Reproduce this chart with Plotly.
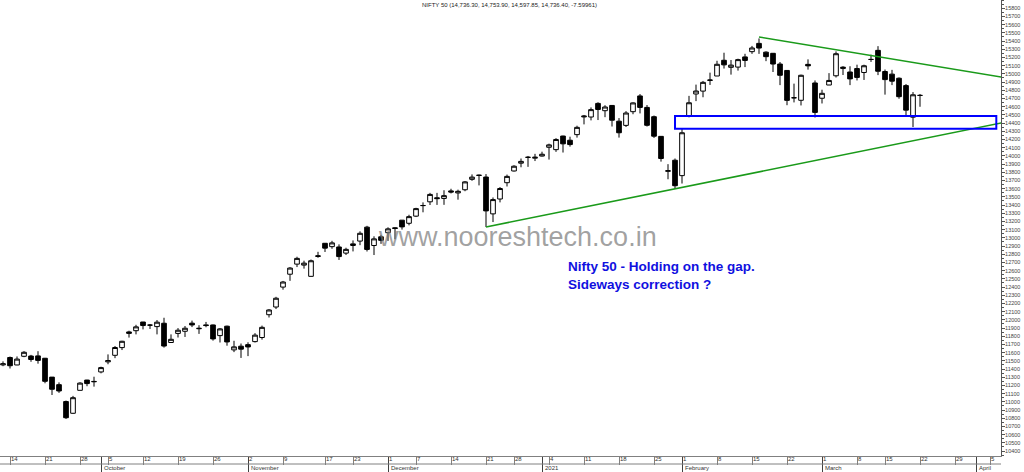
import datetime as dt
import plotly.graph_objects as go

# ---------------- data ----------------
dates = [
    "2020-09-11", "2020-09-14", "2020-09-15", "2020-09-16", "2020-09-17", "2020-09-18",
    "2020-09-21", "2020-09-22", "2020-09-23", "2020-09-24", "2020-09-25",
    "2020-09-28", "2020-09-29", "2020-09-30", "2020-10-01",
    "2020-10-05", "2020-10-06", "2020-10-07", "2020-10-08", "2020-10-09",
    "2020-10-12", "2020-10-13", "2020-10-14", "2020-10-15", "2020-10-16",
    "2020-10-19", "2020-10-20", "2020-10-21", "2020-10-22", "2020-10-23",
    "2020-10-26", "2020-10-27", "2020-10-28", "2020-10-29", "2020-10-30",
    "2020-11-02", "2020-11-03", "2020-11-04", "2020-11-05", "2020-11-06",
    "2020-11-09", "2020-11-10", "2020-11-11", "2020-11-12", "2020-11-13", "2020-11-14",
    "2020-11-17", "2020-11-18", "2020-11-19", "2020-11-20",
    "2020-11-23", "2020-11-24", "2020-11-25", "2020-11-26", "2020-11-27",
    "2020-12-01", "2020-12-02", "2020-12-03", "2020-12-04",
    "2020-12-07", "2020-12-08", "2020-12-09", "2020-12-10", "2020-12-11",
    "2020-12-14", "2020-12-15", "2020-12-16", "2020-12-17", "2020-12-18",
    "2020-12-21", "2020-12-22", "2020-12-23", "2020-12-24",
    "2020-12-28", "2020-12-29", "2020-12-30", "2020-12-31", "2021-01-01",
    "2021-01-04", "2021-01-05", "2021-01-06", "2021-01-07", "2021-01-08",
    "2021-01-11", "2021-01-12", "2021-01-13", "2021-01-14", "2021-01-15",
    "2021-01-18", "2021-01-19", "2021-01-20", "2021-01-21", "2021-01-22",
    "2021-01-25", "2021-01-27", "2021-01-28", "2021-01-29",
    "2021-02-01", "2021-02-02", "2021-02-03", "2021-02-04", "2021-02-05",
    "2021-02-08", "2021-02-09", "2021-02-10", "2021-02-11", "2021-02-12",
    "2021-02-15", "2021-02-16", "2021-02-17", "2021-02-18", "2021-02-19",
    "2021-02-22", "2021-02-23", "2021-02-24", "2021-02-25", "2021-02-26",
    "2021-03-01", "2021-03-02", "2021-03-03", "2021-03-04", "2021-03-05",
    "2021-03-08", "2021-03-09", "2021-03-10", "2021-03-12",
    "2021-03-15", "2021-03-16", "2021-03-17", "2021-03-18", "2021-03-19",
    "2021-03-22",
]

opens = [
    11450, 11540, 11449, 11555, 11558, 11560,
    11531, 11301, 11209, 11003, 10860,
    11140, 11265, 11244, 11364,
    11487, 11567, 11661, 11852, 11867,
    11973, 11935, 11917, 11958, 11723,
    11834, 11860, 11959, 11891, 11938,
    11937, 11807, 11922, 11633, 11678,
    11697, 11734, 11784, 12062, 12156,
    12399, 12556, 12679, 12667, 12530, 12772,
    12933, 12892, 12888, 12813,
    12906, 12960, 13130, 12906, 13012,
    13062, 13122, 13215, 13177,
    13264, 13394, 13439, 13488, 13480,
    13572, 13547, 13586, 13713, 13764,
    13741, 13292, 13473, 13672,
    13815, 13910, 13980, 13971, 13997,
    14104, 14075, 14241, 14190, 14258,
    14474, 14473, 14639, 14550, 14614,
    14422, 14371, 14538, 14730, 14590,
    14477, 14237, 13811, 13946,
    13758, 14482, 14754, 14789, 14919,
    14973, 15165, 15079, 15082, 15206,
    15270, 15371, 15264, 15250, 15119,
    15041, 14707, 14677, 15115, 14888,
    14702, 14863, 14976, 15064, 15022,
    15064, 15016, 15175, 15286,
    15028, 14996, 14946, 14856, 14471,
    14736.30,
]

highs = [
    11493, 11552, 11553, 11618, 11572, 11617,
    11535, 11302, 11237, 11015, 11072,
    11239, 11268, 11306, 11428,
    11578, 11680, 11744, 11867, 11939,
    11974, 11948, 11997, 12025, 11822,
    11899, 11924, 11990, 11934, 11974,
    11942, 11899, 11929, 11744, 11711,
    11726, 11837, 11929, 12131, 12280,
    12474, 12643, 12769, 12721, 12735, 12829,
    12934, 12963, 12920, 12879,
    12968, 13079, 13146, 13018, 13035,
    13128, 13128, 13217, 13281,
    13366, 13432, 13548, 13548, 13580,
    13598, 13587, 13692, 13773, 13771,
    13777, 13492, 13619, 13771,
    13885, 13967, 13998, 14024, 14050,
    14148, 14215, 14245, 14233, 14367,
    14498, 14590, 14653, 14617, 14618,
    14460, 14545, 14652, 14753, 14619,
    14491, 14237, 13898, 13967,
    14336, 14731, 14868, 14913, 15014,
    15159, 15257, 15168, 15184, 15244,
    15340, 15431, 15274, 15252, 15144,
    15044, 14880, 14990, 15176, 14919,
    14806, 15008, 15273, 15093, 15092,
    15111, 15111, 15233, 15337,
    15052, 15048, 14956, 14875, 14777,
    14753.90,
]

lows = [
    11434, 11406, 11447, 11544, 11488, 11465,
    11226, 11083, 11109, 10790, 10854,
    11139, 11190, 11185, 11347,
    11458, 11532, 11631, 11783, 11822,
    11883, 11888, 11822, 11661, 11723,
    11784, 11791, 11911, 11828, 11909,
    11746, 11723, 11684, 11606, 11535,
    11557, 11723, 11758, 12028, 12131,
    12367, 12475, 12643, 12624, 12526, 12756,
    12827, 12866, 12730, 12790,
    12834, 12910, 12833, 12790, 12926,
    12962, 12983, 13100, 13152,
    13253, 13311, 13400, 13401, 13402,
    13541, 13465, 13568, 13695, 13639,
    13131, 13192, 13432, 13626,
    13808, 13860, 13865, 13936, 13991,
    13954, 14048, 14040, 14112, 14222,
    14383, 14432, 14436, 14471, 14357,
    14222, 14351, 14507, 14517, 14357,
    14218, 13929, 13714, 13596,
    13662, 14469, 14667, 14714, 14864,
    14973, 15064, 14990, 15039, 15082,
    15243, 15243, 15154, 15022, 14862,
    14617, 14651, 14614, 15051, 14467,
    14638, 14865, 14955, 14985, 14862,
    14919, 14925, 15145, 14984,
    14746, 14862, 14696, 14478, 14351,
    14597.85,
]

closes = [
    11464, 11440, 11521, 11604, 11516, 11505,
    11250, 11153, 11132, 10806, 11050,
    11228, 11222, 11248, 11417,
    11503, 11662, 11738, 11835, 11914,
    11930, 11935, 11971, 11680, 11762,
    11873, 11897, 11937, 11896, 11930,
    11767, 11889, 11730, 11670, 11642,
    11669, 11813, 11908, 12120, 12263,
    12461, 12631, 12749, 12691, 12720, 12780,
    12874, 12938, 12771, 12859,
    12926, 13055, 12858, 12987, 12969,
    13109, 13114, 13133, 13258,
    13356, 13393, 13529, 13478, 13514,
    13558, 13567, 13682, 13740, 13761,
    13328, 13466, 13601, 13749,
    13873, 13932, 13982, 13982, 14019,
    14133, 14199, 14146, 14137, 14347,
    14484, 14563, 14565, 14595, 14434,
    14281, 14522, 14645, 14590, 14372,
    14239, 13967, 13818, 13635,
    14281, 14647, 14790, 14896, 14924,
    15116, 15109, 15106, 15173, 15163,
    15315, 15314, 15209, 15119, 14982,
    14676, 14708, 14982, 15097, 14529,
    14762, 14919, 15245, 15081, 14938,
    14956, 15098, 15175, 15031,
    14929, 14910, 14721, 14557, 14744,
    14736.40,
]

# trend lines / gap box drawn on the chart (trading-day index, price)
upper_trend_x = [108, 142.6]
upper_trend_y = [15449, 14961]
lower_trend_x = [69, 142.6]
lower_trend_y = [13132, 14400]
gap_box_x = [96, 141.9]
gap_box_y = [14330, 14485]

y_tick_values = list(range(10400, 15801, 100))
month_names = {1: "2021", 2: "February", 3: "March", 4: "April", 10: "October",
               11: "November", 12: "December", 9: "September"}

title_text = "NIFTY 50 (14,736.30, 14,753.90, 14,597.85, 14,736.40, -7.59961)"
note_lines = ["Nifty 50 - Holding on the gap.", "Sideways correction ?"]
watermark = "www.nooreshtech.co.in"

# ---------------- trading-day calendar ----------------
cal = [dt.date.fromisoformat(d) for d in dates]
d = cal[-1]
while d < dt.date(2021, 4, 9):
    d += dt.timedelta(days=1)
    if d.weekday() < 5:
        cal.append(d)

week_vals, week_text, month_vals, month_text = [], [], [], []
for i in range(1, len(cal)):
    if cal[i].isocalendar()[1] != cal[i - 1].isocalendar()[1]:
        week_vals.append(i)
        week_text.append(str(cal[i].day))
    if cal[i].month != cal[i - 1].month:
        month_vals.append(i)
        month_text.append(month_names[cal[i].month])

xi = list(range(len(dates)))
XR = [-0.43, 142.57]
YR = [10339, 15900]
FONT = "Liberation Sans, Arial, sans-serif"
PLOT_H = 456

fig = go.Figure()
fig.add_trace(go.Candlestick(
    x=xi, open=opens, high=highs, low=lows, close=closes,
    increasing=dict(fillcolor="white", line=dict(color="black", width=1)),
    decreasing=dict(fillcolor="black", line=dict(color="black", width=1)),
    whiskerwidth=0, showlegend=False, hoverinfo="skip",
))
fig.add_trace(go.Scatter(x=[0], y=[None], xaxis="x2", yaxis="y",
                         showlegend=False, hoverinfo="skip", mode="lines"))

# green trend lines
fig.add_trace(go.Scatter(x=upper_trend_x, y=upper_trend_y, mode="lines",
                         line=dict(color="#1a9a1a", width=1.5), showlegend=False, hoverinfo="skip"))
fig.add_trace(go.Scatter(x=lower_trend_x, y=lower_trend_y, mode="lines",
                         line=dict(color="#1a9a1a", width=1.5), showlegend=False, hoverinfo="skip"))

# blue gap rectangle
fig.add_shape(type="rect", xref="x", yref="y",
              x0=gap_box_x[0], x1=gap_box_x[1], y0=gap_box_y[0], y1=gap_box_y[1],
              line=dict(color="#0000ff", width=2), fillcolor="rgba(0,0,0,0)")

# bottom border of the date band
fig.add_shape(type="line", xref="paper", yref="paper", x0=0, x1=1,
              y0=-8 / PLOT_H, y1=-8 / PLOT_H, line=dict(color="#808080", width=1))

fig.update_layout(
    template="none",
    width=1024, height=472,
    margin=dict(l=0, r=23, t=0, b=16, autoexpand=False),
    paper_bgcolor="white", plot_bgcolor="white",
    showlegend=False,
    boxgap=0.05, boxgroupgap=0.3,
    font=dict(family=FONT, size=6, color="#333333"),
    xaxis=dict(
        range=XR, rangeslider=dict(visible=False), automargin=False,
        tickvals=week_vals, ticktext=week_text,
        ticks="outside", ticklen=8, tickcolor="#808080", tickwidth=1,
        ticklabelposition="outside right", ticklabelstandoff=-3, ticklabelshift=0,
        tickfont=dict(size=6, color="#333333"),
        showline=True, linecolor="#808080", linewidth=1,
        showgrid=False, zeroline=False,
    ),
    xaxis2=dict(
        range=XR, overlaying="x", anchor="y", side="bottom", automargin=False,
        tickvals=month_vals, ticks="outside", ticklen=16, tickcolor="#404040", tickwidth=1,
        showticklabels=False,
        showline=False, showgrid=False, zeroline=False,
    ),
    yaxis=dict(
        range=YR, side="right", automargin=False,
        tickvals=y_tick_values, tickformat="d",
        ticks="outside", ticklen=3, tickcolor="#555555",
        minor=dict(dtick=50, ticks="outside", ticklen=2, tickcolor="#555555"),
        ticklabelstandoff=-1,
        tickfont=dict(size=5.5, color="#444444"),
        showline=True, linecolor="#555555", linewidth=1,
        showgrid=False, zeroline=False,
    ),
)

# month labels under the date band, left-aligned at the month line
for v, t in zip(month_vals, month_text):
    fig.add_annotation(text=t, xref="x", yref="paper", x=v + 0.2, y=-12 / PLOT_H,
                       xanchor="left", yanchor="middle", showarrow=False,
                       font=dict(size=6, color="#333333", family=FONT))

fig.add_annotation(text=title_text, xref="paper", yref="paper",
                   x=510 / 1001, y=1, xanchor="center", yanchor="top",
                   showarrow=False, font=dict(size=6, color="#222222", family=FONT))
fig.add_annotation(text=watermark, xref="paper", yref="paper",
                   x=517 / 1001, y=1 - 237 / PLOT_H, xanchor="center", yanchor="middle",
                   showarrow=False, font=dict(size=27, color="rgba(120,120,120,0.7)", family=FONT))
fig.add_annotation(text="<b>" + note_lines[0] + "</b><br><b>" + note_lines[1] + "</b>",
                   xref="paper", yref="paper", x=566 / 1001, y=1 - 257 / PLOT_H,
                   xanchor="left", yanchor="top", align="left", showarrow=False,
                   font=dict(size=13.5, color="#1010e0", family=FONT))

fig.write_html(
    "out.html",
    config={"displayModeBar": False},
    post_script="document.body.style.margin='0';document.body.style.padding='0';"
                "document.body.style.overflow='hidden';",
)
